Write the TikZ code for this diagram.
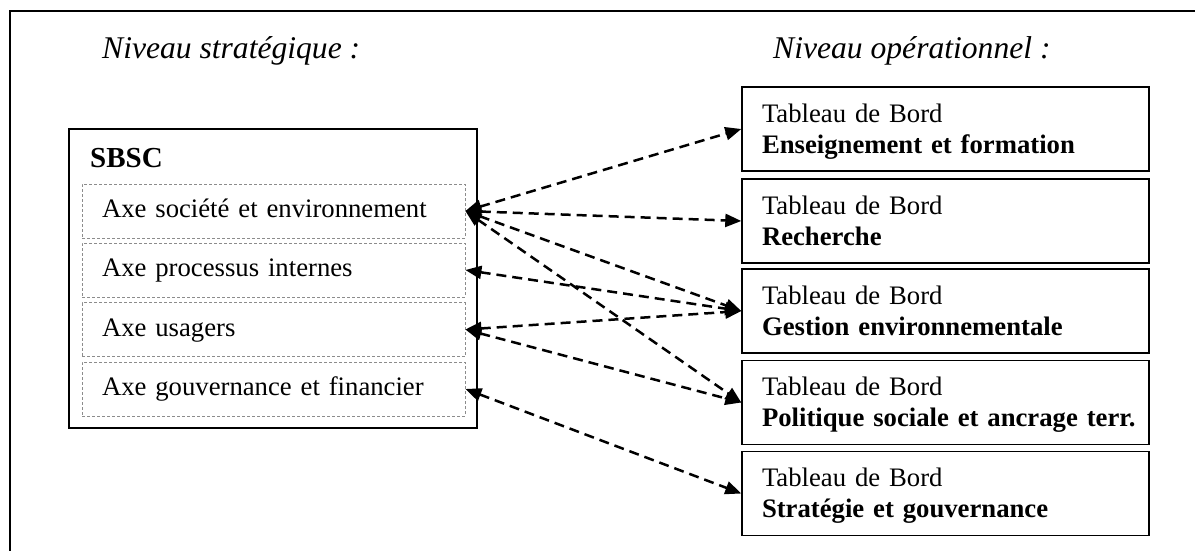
\documentclass[tikz,border=0pt]{standalone}
\usepackage{fontspec}
\setmainfont{Liberation Serif}
\usetikzlibrary{arrows.meta}
\begin{document}
\begin{tikzpicture}[x=1pt,y=-1pt,
  bodyfont/.style={font=\fontsize{26.7}{31}\selectfont},
  titlefont/.style={font=\fontsize{31.6}{36}\selectfont\itshape},
  axebox/.style={draw=black!45, line width=0.8pt, dash pattern=on 3pt off 2pt,
    minimum width=383pt, minimum height=54pt, inner sep=0pt, inner xsep=20pt,
    text width=343pt, align=left, bodyfont, text height=19pt, text depth=6pt},
  tbbox/.style={draw=black, line width=1.4pt, minimum width=407pt, minimum height=84pt,
    inner sep=0pt, inner xsep=20pt, text width=367pt, align=left, bodyfont,
    text height=20pt, text depth=34pt},
  link/.style={line width=2.5pt, dash pattern=on 10pt off 6pt,
    {Triangle[length=16pt,width=13pt]}-{Triangle[length=16pt,width=13pt]}}
]
\useasboundingbox (0,0) rectangle (1195,550);
\fill[white] (0,0) rectangle (1195,550);
% outer frame
\draw[line width=2pt] (10,560) -- (10,11) -- (1200,11);

% titles
\node[titlefont, anchor=base west, inner sep=0pt] (tstrat) at (102,58) {Niveau stratégique :};
\node[titlefont, anchor=base west, inner sep=0pt] (toper) at (773,58) {Niveau opérationnel :};

% SBSC box
\node[draw=black, line width=1.4pt, minimum width=408pt, minimum height=299pt, inner sep=0pt] (sbsc) at (273,278.5) {};
\node[font=\fontsize{29}{34}\selectfont\bfseries, anchor=base west, inner sep=0pt] (sbsclabel) at (90,167) {SBSC};

\node[axebox] (a1) at (273.5,211) {Axe société et environnement};
\node[axebox] (a2) at (273.5,270) {Axe processus internes};
\node[axebox] (a3) at (273.5,329.5) {Axe usagers};
\node[axebox] (a4) at (273.5,389) {Axe gouvernance et financier};

% right boxes
\node[tbbox] (t1) at (945.5,129) {Tableau de Bord\\\mbox{\textbf{Enseignement et formation}}};
\node[tbbox] (t2) at (945.5,221) {Tableau de Bord\\\mbox{\textbf{Recherche}}};
\node[tbbox] (t3) at (945.5,311) {Tableau de Bord\\\mbox{\textbf{Gestion environnementale}}};
\node[tbbox] (t4) at (945.5,402.5) {Tableau de Bord\\\mbox{\textbf{Politique sociale et ancrage terr.}}};
\node[tbbox] (t5) at (945.5,493.5) {Tableau de Bord\\\mbox{\textbf{Stratégie et gouvernance}}};

% links
\draw[link] (a1.east) -- (t1.west);
\draw[link] (a1.east) -- (t2.west);
\draw[link] (a1.east) -- (t3.west);
\draw[link] (a1.east) -- (t4.west);
\draw[link] (a2.east) -- (t3.west);
\draw[link] (a3.east) -- (t3.west);
\draw[link] (a3.east) -- (t4.west);
\draw[link] (a4.east) -- (t5.west);
\end{tikzpicture}
\end{document}
